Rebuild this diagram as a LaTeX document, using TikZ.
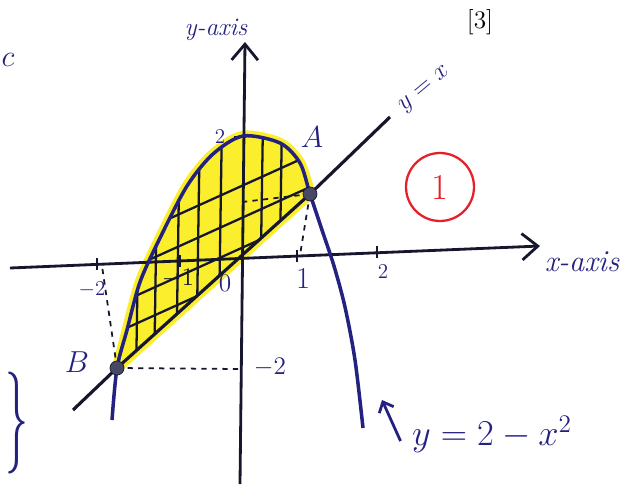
\documentclass[tikz,border=0pt]{standalone}
\usetikzlibrary{arrows.meta}
\definecolor{ink}{RGB}{36,34,128}
\definecolor{pencil}{RGB}{22,22,45}
\definecolor{marker}{RGB}{250,238,45}
\definecolor{redink}{RGB}{228,32,42}
\definecolor{dot}{RGB}{70,72,100}

\begin{document}
\begin{tikzpicture}[
    x=0.02cm,y=-0.02cm,
    axis/.style={-{Straight Barb[length=9pt,width=15pt,line width=1.6pt]},line width=1.6pt,draw=pencil},
    curve/.style={line width=2pt,draw=ink},
    hatch/.style={line width=1.3pt,draw=pencil},
    guide/.style={dashed,line width=1pt,draw=pencil},
    tick/.style={line width=1.2pt,draw=pencil},
    pt/.style={circle,fill=dot,draw=pencil,minimum size=8pt,inner sep=0pt},
    lbl/.style={text=ink,font=\LARGE},
    pointer/.style={-{Straight Barb[length=5pt,width=9pt]},line width=1.6pt,draw=ink}
  ]
  \useasboundingbox (0,0) rectangle (639,484);

  % points and ends
  \coordinate (A) at (310,194);
  \coordinate (B) at (117,368);
  \coordinate (lo) at (73,410);
  \coordinate (hi) at (390,117);
  \coordinate (Ax) at (300,255);
  \coordinate (Ay) at (242,202);
  \coordinate (Bx) at (102,266);
  \coordinate (By) at (240,369);
  \coordinate (tip) at (382,400);

  % shaded region
  \fill[marker,draw=marker,line width=6pt,line join=round]
    (B) -- (A) -- plot[smooth] coordinates {(310,194) (300,163) (280,143) (243,136) (213,154) (187,186) (160,238) (140,282) (127,330) (117,368)} -- cycle;
  \begin{scope}
    \clip (B) -- (A) -- plot[smooth] coordinates {(310,194) (300,163) (280,143) (243,136) (213,154) (187,186) (160,238) (140,282) (127,330) (117,368)} -- cycle;
    \foreach \c in {250,282,312,340}
      \draw[hatch] (100,\c) -- (330,\c-104);
    \foreach \x in {140,158,180,200,222,263,282}
      \draw[hatch] (\x,120) -- (\x-4,380);
  \end{scope}

  % axes
  \draw[axis] (10,268) -- (540,246);
  \draw[axis] (240,484) -- (245,42);
  \foreach \x/\y in {97/264,180/261,297/256,377/252}
    \draw[tick] (\x,\y-6) -- (\x,\y+6);
  \draw[tick] (234,137) -- (246,137);

  % curves
  \draw[line width=1.8pt,draw=pencil] (lo) -- (B) -- (A) -- (hi);
  \draw[curve] plot[smooth] coordinates {(112,420) (117,368) (127,330) (140,282) (160,238) (187,186) (213,154) (243,136) (280,143) (300,163) (310,194) (322,230) (334,266) (345,307) (355,360) (363,428)};

  % guides
  \draw[guide] (A) -- (Ax);
  \draw[guide] (A) -- (Ay);
  \draw[guide] (B) -- (Bx);
  \draw[guide] (B) -- (By);

  \node[pt] (ptA) at (A) {};
  \node[pt] (ptB) at (B) {};

  % labels
  \node[lbl] (nameA) at (312,137) {$A$};
  \node[lbl] (nameB) at (77,362) {$B$};
  \node[lbl,font=\Large] (yname) at (216,30) {\itshape y-axis};
  \node[lbl,font=\LARGE] (xname) at (582,262) {\itshape x-axis};
  \node[lbl,font=\Large,rotate=40] (linename) at (425,90) {$y=x$};
  \node[lbl,font=\huge] (ylab) at (492,434) {$y=2-x^2$};
  \draw[pointer] ([xshift=-3pt,yshift=-4pt]ylab.west) -- (tip);
  \node[lbl,font=\large] (ytwo) at (220,137) {$2$};
  \node[lbl,font=\Large] (ymtwo) at (270,367) {$-2$};
  \node[lbl,font=\large] (xmtwo) at (92,290) {$-2$};
  \node[font=\Large,text=pencil] (xmone) at (178,278) {$-1$};
  \node[lbl,font=\Large] (zero) at (225,283) {$0$};
  \node[lbl,font=\LARGE] (xone) at (303,279) {$1$};
  \node[lbl,font=\large] (xtwo) at (383,272) {$2$};
  \node[circle,draw=redink,line width=1.3pt,minimum size=1.36cm,text=redink,font=\huge] (mark) at (440,187) {1};
  \node[font=\Large] (marks) at (480,22) {[3]};
  \node[lbl] (cut) at (8,60) {$c$};
  \node[text=ink,font=\fontsize{58}{58}\selectfont] (brace) at (17,423) {\scalebox{0.45}[1]{\}}};
\end{tikzpicture}
\end{document}
